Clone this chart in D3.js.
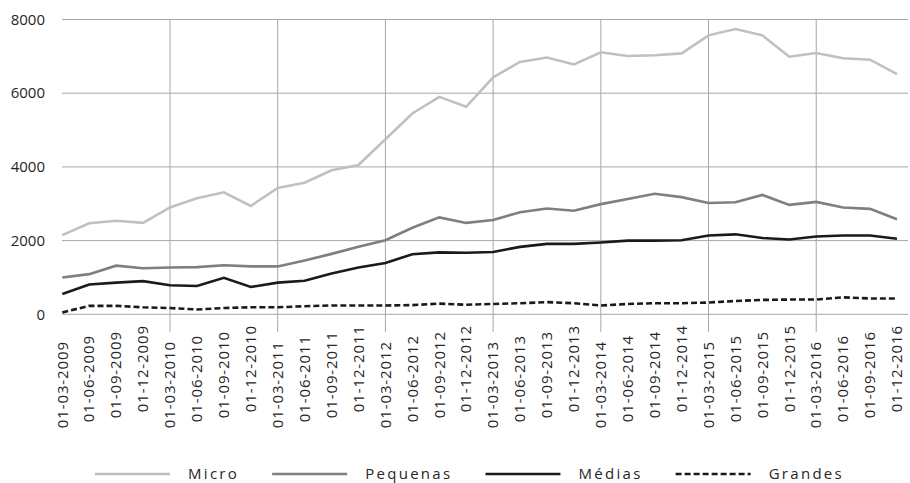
<!DOCTYPE html>
<html>
<head>
<meta charset="utf-8">
<script src="https://cdn.jsdelivr.net/npm/d3@7"></script>
<style>
  body { margin: 0; background: #fff; }
  svg { font-family: "Open Sans", sans-serif; }
</style>
</head>
<body>
<script>
var width = 910, height = 483;

// quarterly dates
var dates = [
  "01-03-2009","01-06-2009","01-09-2009","01-12-2009",
  "01-03-2010","01-06-2010","01-09-2010","01-12-2010",
  "01-03-2011","01-06-2011","01-09-2011","01-12-2011",
  "01-03-2012","01-06-2012","01-09-2012","01-12-2012",
  "01-03-2013","01-06-2013","01-09-2013","01-12-2013",
  "01-03-2014","01-06-2014","01-09-2014","01-12-2014",
  "01-03-2015","01-06-2015","01-09-2015","01-12-2015",
  "01-03-2016","01-06-2016","01-09-2016","01-12-2016"
];

var micro = [2150, 2470, 2540, 2480, 2900, 3150, 3310, 2940,
             3430, 3570, 3910, 4050, 4750, 5450, 5900, 5630,
             6430, 6850, 6970, 6780, 7110, 7010, 7030, 7080,
             7570, 7740, 7570, 6990, 7090, 6950, 6910, 6520];
var pequenas = [1000, 1090, 1320, 1250, 1270, 1280, 1330, 1300,
                1300, 1460, 1640, 1830, 2010, 2350, 2630, 2480,
                2560, 2770, 2870, 2810, 2990, 3130, 3270, 3180,
                3020, 3040, 3240, 2970, 3050, 2900, 2860, 2580];
var medias = [550, 810, 860, 900, 790, 770, 990, 740,
              860, 910, 1110, 1270, 1390, 1630, 1680, 1670,
              1690, 1830, 1910, 1910, 1950, 2000, 2000, 2010,
              2140, 2170, 2070, 2030, 2110, 2140, 2140, 2050];
var grandes = [50, 230, 230, 190, 170, 130, 170, 190,
               190, 220, 240, 240, 240, 250, 290, 260,
               280, 300, 330, 300, 240, 280, 300, 300,
               320, 360, 390, 400, 400, 460, 430, 430];

var yTicks = [0, 2000, 4000, 6000, 8000];

var series = [
  { name: "Micro",    values: micro,    color: "#c0c0c0", dash: null },
  { name: "Pequenas", values: pequenas, color: "#7f7f7f", dash: null },
  { name: "Médias",   values: medias,   color: "#1a1a1a", dash: null },
  { name: "Grandes",  values: grandes,  color: "#1a1a1a", dash: "6,3" }
];

var svg = d3.select("body").append("svg")
    .attr("width", width)
    .attr("height", height);

var x = d3.scalePoint()
    .domain(dates)
    .range([62.3, 897]);

var y = d3.scaleLinear()
    .domain([0, 8000])
    .range([314.3, 19.5]);

// horizontal grid
svg.append("g")
    .selectAll("line")
    .data(yTicks)
    .enter().append("line")
    .attr("x1", 62).attr("x2", 908)
    .attr("y1", d => y(d)).attr("y2", d => y(d))
    .attr("stroke", "#a6a6a6")
    .attr("stroke-width", 1);

// vertical grid on each March (not the first)
svg.append("g")
    .selectAll("line")
    .data(dates.filter((d, i) => i % 4 === 0 && i > 0))
    .enter().append("line")
    .attr("x1", d => x(d)).attr("x2", d => x(d))
    .attr("y1", y(8000)).attr("y2", 332)
    .attr("stroke", "#a6a6a6")
    .attr("stroke-width", 1);

// y labels
svg.append("g")
    .selectAll("text")
    .data(yTicks)
    .enter().append("text")
    .attr("x", 45)
    .attr("y", d => y(d))
    .attr("dy", "0.35em")
    .attr("text-anchor", "end")
    .style("font-size", "15px")
    .style("fill", "#262626")
    .text(d => d);

// x labels, rotated; ends are staggered by quarter
var topOffset = [341, 335, 331, 325];
svg.append("g")
    .selectAll("text")
    .data(dates)
    .enter().append("text")
    .attr("transform", (d, i) => `translate(${x(d)},${topOffset[i % 4]}) rotate(-90)`)
    .attr("dy", "0.35em")
    .attr("text-anchor", "end")
    .style("font-size", "15px")
    .style("letter-spacing", "0.9px")
    .style("fill", "#262626")
    .text(d => d);

var line = d3.line()
    .x((d, i) => x(dates[i]))
    .y(d => y(d));

svg.append("g")
    .selectAll("path")
    .data(series)
    .enter().append("path")
    .attr("d", d => line(d.values))
    .attr("fill", "none")
    .attr("stroke", d => d.color)
    .attr("stroke-width", 2.6)
    .attr("stroke-dasharray", d => d.dash);

// legend
var legend = svg.append("g");
var lx = 95;
series.forEach(function(s) {
  legend.append("line")
      .attr("x1", lx).attr("x2", lx + 75)
      .attr("y1", 474).attr("y2", 474)
      .attr("stroke", s.color)
      .attr("stroke-width", 2.6)
      .attr("stroke-dasharray", s.dash);
  var t = legend.append("text")
      .attr("x", lx + 93)
      .attr("y", 479)
      .style("font-size", "15px")
      .style("letter-spacing", "2.3px")
      .style("fill", "#262626")
      .text(s.name);
  lx = lx + 93 + t.node().getComputedTextLength() + 33;
});
</script>
</body>
</html>
